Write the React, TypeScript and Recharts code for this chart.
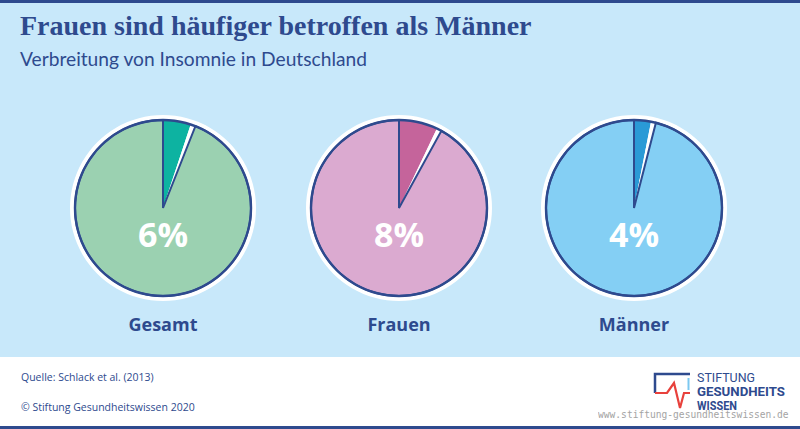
import React from 'react';
import { PieChart, Pie, Cell } from 'recharts';

const CATEGORIES = ['Gesamt', 'Frauen', 'Männer'];
const SHARE = [6, 8, 4];
const PCT_LABELS = ['6%', '8%', '4%'];
const SLICE_COLORS = ['#0db3a1', '#c5649b', '#2a9ad6'];
const REST_COLORS = ['#9bd1b1', '#dbaad0', '#84cff4'];

const W = 800;
const H = 429;
const BLUE = '#2e4a8e';
const BG = '#c8e8fa';
const CENTERS_X = [163, 399, 634];
const CY = 208;
const R = 88;
const GAP_SHARE = 0.9;

const textBase: React.CSSProperties = { position: 'absolute', whiteSpace: 'nowrap', lineHeight: 1 };
const logoFont = '"Liberation Sans Narrow", "Roboto", sans-serif';

export default function App() {
  return (
    <div style={{ position: 'fixed', left: 0, top: 0, width: W, height: H, background: '#fff', overflow: 'hidden' }}>
      <div style={{ position: 'absolute', left: 0, top: 0, width: W, height: 357, background: BG }} />
      <div style={{ position: 'absolute', left: 0, top: 0, width: W, height: 3, background: BLUE }} />
      <div style={{ position: 'absolute', left: 0, top: 426, width: W, height: 3, background: BLUE }} />

      <div style={{ ...textBase, left: 20, top: 12, fontFamily: '"Liberation Serif", serif', fontWeight: 700, fontSize: 28, color: BLUE }}>
        Frauen sind häufiger betroffen als Männer
      </div>
      <div style={{ ...textBase, left: 20, top: 49, fontFamily: 'Lato, sans-serif', fontWeight: 400, fontSize: 19.2, color: BLUE }}>
        Verbreitung von Insomnie in Deutschland
      </div>

      <div style={{ position: 'absolute', left: 0, top: 0 }}>
        <PieChart width={W} height={357} margin={{ top: 0, right: 0, bottom: 0, left: 0 }}>
          {CATEGORIES.map((cat, i) => [
            <Pie
              key={`halo-${cat}`}
              data={[{ name: cat, value: 100 }]}
              dataKey="value"
              cx={CENTERS_X[i]}
              cy={CY}
              outerRadius={R + 5}
              innerRadius={0}
              fill="#ffffff"
              stroke="none"
              isAnimationActive={false}
            />,
            <Pie
              key={`main-${cat}`}
              data={[
                { name: 'Insomnie', value: SHARE[i] - GAP_SHARE },
                { name: 'gap', value: GAP_SHARE },
                { name: 'ohne', value: 100 - SHARE[i] },
              ]}
              dataKey="value"
              cx={CENTERS_X[i]}
              cy={CY}
              outerRadius={R}
              innerRadius={0}
              startAngle={90}
              endAngle={-270}
              stroke="none"
              isAnimationActive={false}
            >
              <Cell fill={SLICE_COLORS[i]} stroke="none" />
              <Cell fill="#ffffff" stroke="none" />
              <Cell fill={REST_COLORS[i]} stroke={BLUE} strokeWidth={2} />
            </Pie>,
            <Pie
              key={`ring-${cat}`}
              data={[{ name: cat, value: 100 }]}
              dataKey="value"
              cx={CENTERS_X[i]}
              cy={CY}
              outerRadius={R + 1.2}
              innerRadius={R - 1.2}
              fill={BLUE}
              stroke="none"
              isAnimationActive={false}
            />,
          ])}
        </PieChart>
      </div>

      {CATEGORIES.map((cat, i) => (
        <React.Fragment key={cat}>
          <div style={{ ...textBase, left: CENTERS_X[i] - 60, width: 120, textAlign: 'center', top: 217, fontFamily: '"Open Sans", sans-serif', fontWeight: 700, fontSize: 34, color: '#fff' }}>
            {PCT_LABELS[i]}
          </div>
          <div style={{ ...textBase, left: CENTERS_X[i] - 80, width: 160, textAlign: 'center', top: 315, fontFamily: '"Open Sans", sans-serif', fontWeight: 700, fontSize: 18, color: BLUE }}>
            {cat}
          </div>
        </React.Fragment>
      ))}

      <div style={{ ...textBase, left: 21, top: 372, fontFamily: '"Open Sans", sans-serif', fontSize: 10.5, color: BLUE }}>
        Quelle: Schlack et al. (2013)
      </div>
      <div style={{ ...textBase, left: 21, top: 402, fontFamily: '"Open Sans", sans-serif', fontSize: 10.5, color: BLUE }}>
        © Stiftung Gesundheitswissen 2020
      </div>

      <svg style={{ position: 'absolute', left: 0, top: 0 }} width={W} height={H}>
        <polyline points="655,393 655,374 690,374" fill="none" stroke={BLUE} strokeWidth={2.5} />
        <line x1={688.5} y1={378} x2={688.5} y2={390} stroke="#7cc8f0" strokeWidth={2} />
        <polyline points="655,393 667,393 674,383 680,408 684,393 690,393" fill="none" stroke="#e8413c" strokeWidth={2.2} strokeLinejoin="miter" />
        <text x={697} y={382} fontFamily={logoFont} fontSize={12.5} textLength={58} lengthAdjust="spacingAndGlyphs" fill={BLUE}>STIFTUNG</text>
        <text x={697} y={396} fontFamily={logoFont} fontWeight={700} fontSize={12.5} textLength={88} lengthAdjust="spacingAndGlyphs" fill={BLUE}>GESUNDHEITS</text>
        <text x={697} y={410} fontFamily={logoFont} fontWeight={700} fontSize={12.5} textLength={40} lengthAdjust="spacingAndGlyphs" fill={BLUE}>WISSEN</text>
        <text x={598} y={418} fontFamily='"DejaVu Sans Mono", monospace' fontSize={9.6} fill="#9a9a9a" opacity={0.9}>www.stiftung-gesundheitswissen.de</text>
      </svg>
    </div>
  );
}
